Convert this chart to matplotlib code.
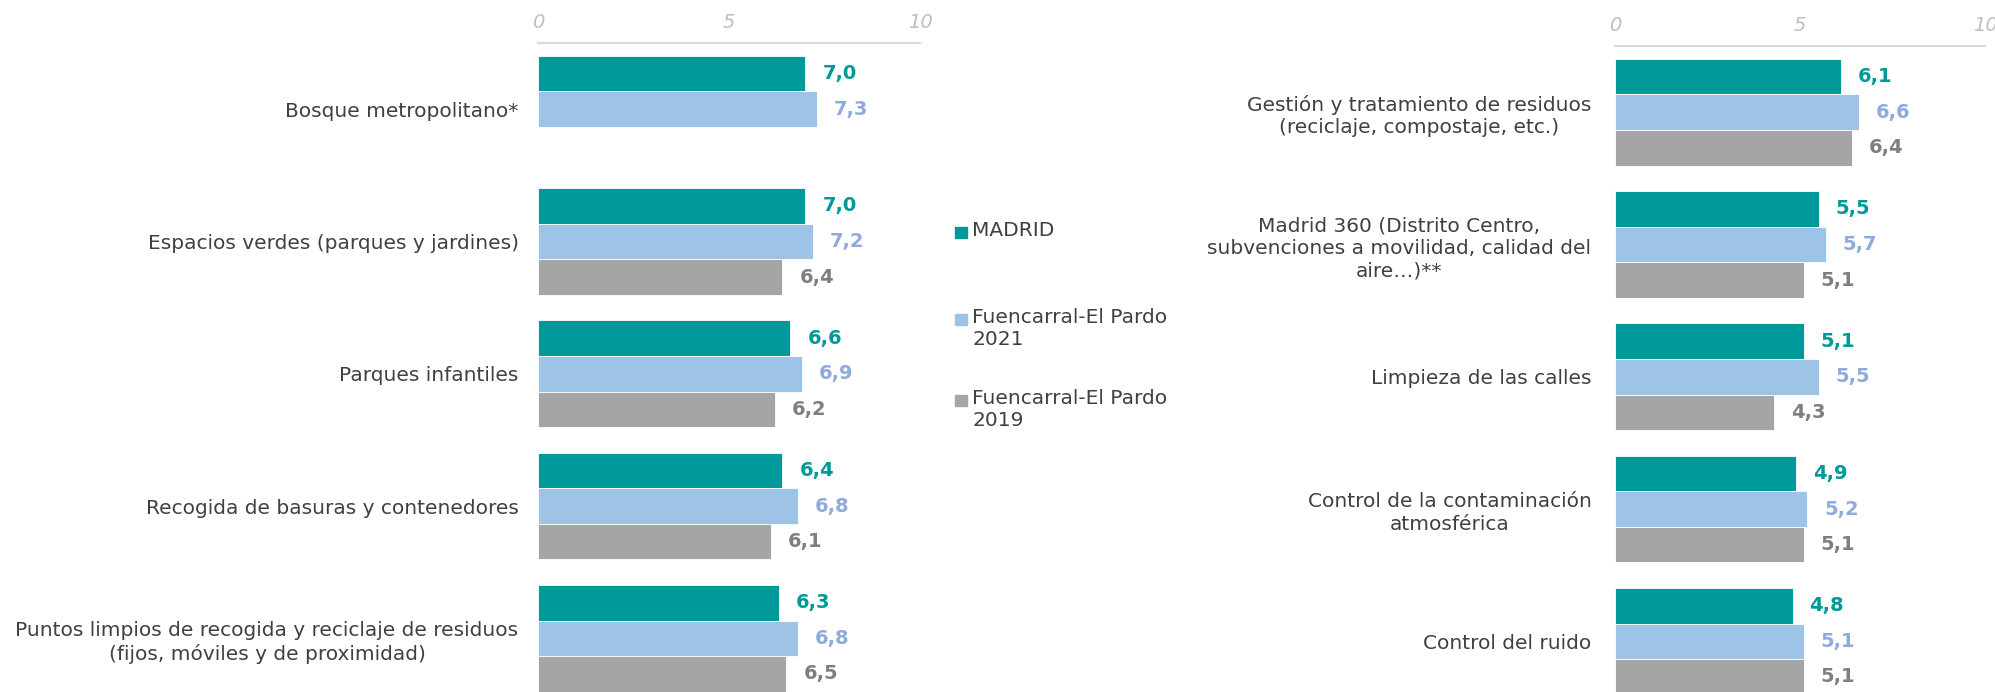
import numpy as np
import matplotlib.pyplot as plt
from matplotlib.patches import Rectangle

plt.rcParams['font.family'] = ['DejaVu Sans']

# datos
cat_izq = ["Bosque metropolitano*",
           "Espacios verdes (parques y jardines)",
           "Parques infantiles",
           "Recogida de basuras y contenedores",
           "Puntos limpios de recogida y reciclaje de residuos\n(fijos, móviles y de proximidad)"]
madrid_izq = [7.0, 7.0, 6.6, 6.4, 6.3]
fp21_izq = [7.3, 7.2, 6.9, 6.8, 6.8]
fp19_izq = [np.nan, 6.4, 6.2, 6.1, 6.5]

cat_der = ["Gestión y tratamiento de residuos\n(reciclaje, compostaje, etc.)",
           "Madrid 360 (Distrito Centro,\nsubvenciones a movilidad, calidad del\naire…)**",
           "Limpieza de las calles",
           "Control de la contaminación\natmosférica",
           "Control del ruido"]
madrid_der = [6.1, 5.5, 5.1, 4.9, 4.8]
fp21_der = [6.6, 5.7, 5.5, 5.2, 5.1]
fp19_der = [6.4, 5.1, 4.3, 5.1, 5.1]

series = ["MADRID", "Fuencarral-El Pardo\n2021", "Fuencarral-El Pardo\n2019"]
colores = ["#009999", "#9DC3E6", "#A5A5A5"]
col_etiq = ["#009999", "#8FAADC", "#7F7F7F"]
gris_txt = "#404040"

W, H = 1995, 692
fig = plt.figure(figsize=(W/100, H/100), dpi=100)

def panel(rect, cats, vals, pad):
    ax = fig.add_axes(rect)
    y = np.arange(len(cats))
    h = 0.269
    for k, v in enumerate(vals):
        v = np.array(v, dtype=float)
        pos = y + (k - 1) * h
        ax.barh(pos, v, height=h, color=colores[k], edgecolor="white", linewidth=0.6)
        for p, val in zip(pos, v):
            if np.isnan(val):
                continue
            ax.text(val + 0.45, p, f"{val:.1f}".replace(".", ","), color=col_etiq[k],
                    fontsize=14, fontweight="bold", va="center", ha="left")
    ax.set_xlim(0, 10)
    ax.set_ylim(len(cats) - 0.5, -0.5)
    ax.xaxis.tick_top()
    ax.set_xticks([0, 5, 10])
    ax.set_xticklabels(["0", "5", "10"])
    ax.tick_params(axis="x", length=0, pad=8, labelsize=14, labelcolor="#BFBFBF")
    for t in ax.get_xticklabels():
        t.set_fontstyle("italic")
    ax.set_yticks(y)
    ax.set_yticklabels(cats)
    ax.tick_params(axis="y", length=0, pad=pad, labelsize=14.5, labelcolor=gris_txt)
    for t in ax.get_yticklabels():
        t.set_multialignment("center")
        t.set_linespacing(1.25)
    for s in ["left", "right", "bottom"]:
        ax.spines[s].set_visible(False)
    ax.spines["top"].set_color("#D9D9D9")
    ax.spines["top"].set_linewidth(1.5)
    ax.patch.set_alpha(0)
    return ax

alto = 661.5 / H
panel([538/W, 1 - 43/H - alto, (920-538)/W, alto], cat_izq,
      [madrid_izq, fp21_izq, fp19_izq], 14)
panel([1615/W, 1 - 46/H - alto, (1985-1615)/W, alto], cat_der,
      [madrid_der, fp21_der, fp19_der], 17)

# leyenda
ys = [233, 320, 401]
for k, (nombre, yy) in enumerate(zip(series, ys)):
    fig.add_artist(Rectangle((955/W, 1 - (yy + 5)/H), 12/W, 11/H,
                             transform=fig.transFigure, color=colores[k]))
    fig.text(972/W, 1 - (yy - 12)/H, nombre, color=gris_txt, fontsize=14.5, va="top",
             ha="left", linespacing=1.2)

fig.savefig("out.png", dpi=100)
